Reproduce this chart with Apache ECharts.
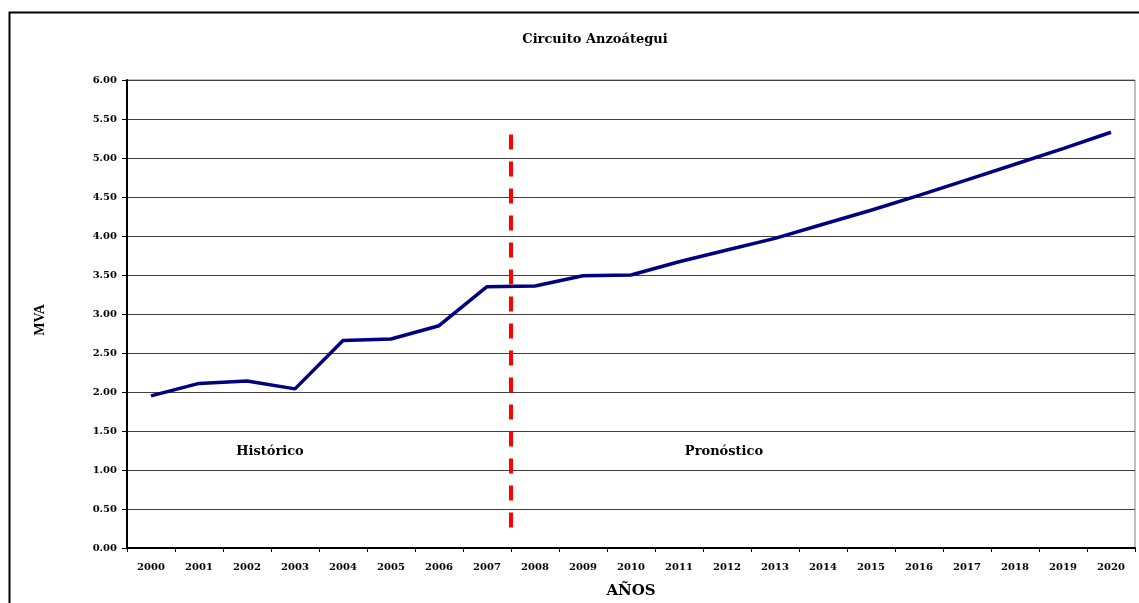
<!DOCTYPE html>
<html>
<head>
<meta charset="utf-8">
<script src="https://cdn.jsdelivr.net/npm/echarts@6/dist/echarts.min.js"></script>
<style>
  html, body { margin: 0; padding: 0; background: #fff; }
  #chart { width: 1139px; height: 603px; }
</style>
</head>
<body>
<div id="chart"></div>
<script>
// años y demanda (MVA)
const years = ['2000', '2001', '2002', '2003', '2004', '2005', '2006', '2007', '2008', '2009', '2010',
  '2011', '2012', '2013', '2014', '2015', '2016', '2017', '2018', '2019', '2020'];
const mva = [1.95, 2.11, 2.14, 2.04, 2.66, 2.68, 2.85, 3.35, 3.36, 3.49, 3.50,
  3.67, 3.82, 3.97, 4.15, 4.33, 4.52, 4.72, 4.92, 5.12, 5.33];
// linea divisoria entre historico y pronostico (posicion en ejes de categoria 0..21)
const dividerX = [8, 8];
const dividerY = [5.3, 0.23];

const wide = 'DejaVu Serif, serif';
const chart = echarts.init(document.getElementById('chart'));

chart.setOption({
  animation: false,
  title: {
    text: 'Circuito Anzoátegui',
    left: 590,
    top: 28,
    textAlign: 'center',
    textStyle: { fontFamily: wide, fontSize: 13, fontWeight: 'bold', color: '#000' }
  },
  grid: {
    left: 127, right: 4, top: 80, bottom: 55,
    outerBoundsMode: 'none',
    show: true, borderColor: '#808080', borderWidth: 1
  },
  xAxis: [{
    type: 'category',
    data: years,
    boundaryGap: true,
    name: 'AÑOS',
    nameLocation: 'middle',
    nameGap: 36,
    nameTextStyle: { fontFamily: wide, fontSize: 15, fontWeight: 'bold', color: '#000' },
    axisLine: { lineStyle: { color: '#000', width: 2 } },
    axisTick: { show: true, inside: false, length: 4, lineStyle: { color: '#000' } },
    axisLabel: { fontFamily: wide, fontSize: 10, fontWeight: 'bold', color: '#000', margin: 14, interval: 0 },
    splitLine: { show: false }
  }, {
    type: 'value',
    min: 0,
    max: 21,
    show: false
  }],
  yAxis: {
    type: 'value',
    min: 0,
    max: 6,
    interval: 0.5,
    axisLine: { show: true, lineStyle: { color: '#000', width: 2 } },
    axisTick: { show: true, length: 5, lineStyle: { color: '#000' } },
    axisLabel: {
      fontFamily: wide, fontSize: 10, fontWeight: 'bold', color: '#000', margin: 10,
      formatter: v => v.toFixed(2)
    },
    splitLine: { show: true, lineStyle: { color: '#404040', width: 1 } }
  },
  series: [{
    type: 'line',
    data: mva,
    symbol: 'none',
    lineStyle: { color: '#000080', width: 3.5 },
    z: 3
  }, {
    type: 'line',
    xAxisIndex: 1,
    data: dividerX.map((x, i) => [x, dividerY[i]]),
    symbol: 'none',
    lineStyle: { color: '#ff0000', width: 4, type: [15, 12] },
    z: 4
  }],
  graphic: [{
    type: 'rect',
    shape: { x: 9.5, y: 12.5, width: 1200, height: 700 },
    style: { fill: 'none', stroke: '#000', lineWidth: 2 },
    silent: true
  }, {
    type: 'text',
    x: 40, y: 320,
    rotation: Math.PI / 2,
    style: {
      text: 'MVA', align: 'center', verticalAlign: 'middle',
      font: 'bold 14px Liberation Serif, Times New Roman, serif', fill: '#000'
    }
  }, {
    type: 'text',
    x: 270, y: 452,
    style: {
      text: 'Histórico', align: 'center', verticalAlign: 'middle',
      font: 'bold 13px DejaVu Serif, serif', fill: '#000'
    }
  }, {
    type: 'text',
    x: 724, y: 452,
    style: {
      text: 'Pronóstico', align: 'center', verticalAlign: 'middle',
      font: 'bold 13px DejaVu Serif, serif', fill: '#000'
    }
  }]
});
</script>
</body>
</html>
